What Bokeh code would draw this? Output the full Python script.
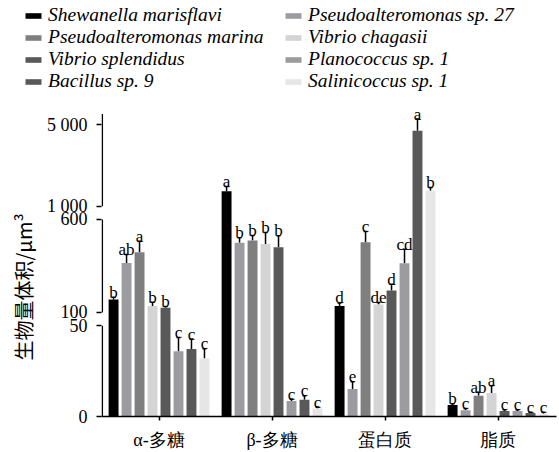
import numpy as np
from bokeh.plotting import figure
from bokeh.layouts import column, row
from bokeh.models import (ColumnDataSource, Range1d, FixedTicker, Legend, LegendItem,
                          Whisker, TeeHead, Arrow, Title)
from bokeh.core.properties import value
from bokeh.embed import file_html
from bokeh.resources import INLINE

# ---------------- data ----------------
groups = ["α-多糖", "β-多糖", "蛋白质", "脂质"]

species = ["Shewanella marisflavi", "Pseudoalteromonas sp. 27", "Pseudoalteromonas marina",
           "Vibrio chagasii", "Vibrio splendidus", "Planococcus sp. 1",
           "Bacillus sp. 9", "Salinicoccus sp. 1"]

shewanella_marisflavi = [170, 1730, 135, 6.3]
pseudoalteromonas_sp27 = [366, 475, 15.2, 3.5]
pseudoalteromonas_marina = [423, 487, 477, 11.5]
vibrio_chagasii = [135, 468, 143, 12.9]
vibrio_splendidus = [125, 450, 218, 3.0]
planococcus_sp1 = [35.9, 8.6, 364, 3.0]
bacillus_sp9 = [37.2, 9.2, 4706, 1.9]
salinicoccus_sp1 = [31.9, 4.4, 1754, 1.5]

shewanella_marisflavi_err = [12, 232, 16, 0.7]
pseudoalteromonas_sp27_err = [46, 27, 4, 0.9]
pseudoalteromonas_marina_err = [59, 27, 58, 1.9]
vibrio_chagasii_err = [20, 62, 11, 4.1]
vibrio_splendidus_err = [7, 62, 34, 0.7]
planococcus_sp1_err = [7.7, 1.0, 75, 0.7]
bacillus_sp9_err = [5.5, 2.3, 573, 0.5]
salinicoccus_sp1_err = [5.5, 0.8, 161, 0.9]

shewanella_marisflavi_sig = ["b", "a", "d", "b"]
pseudoalteromonas_sp27_sig = ["ab", "b", "e", "c"]
pseudoalteromonas_marina_sig = ["a", "b", "c", "ab"]
vibrio_chagasii_sig = ["b", "b", "de", "a"]
vibrio_splendidus_sig = ["b", "b", "d", "c"]
planococcus_sp1_sig = ["c", "c", "cd", "c"]
bacillus_sp9_sig = ["c", "c", "a", "c"]
salinicoccus_sp1_sig = ["c", "c", "b", "c"]

y_tick_values = [0, 50, 100, 600, 1000, 5000]
y_tick_labels = ["0", "50", "100", "600", "1 000", "5 000"]

means = [shewanella_marisflavi, pseudoalteromonas_sp27, pseudoalteromonas_marina,
         vibrio_chagasii, vibrio_splendidus, planococcus_sp1, bacillus_sp9, salinicoccus_sp1]
errs = [shewanella_marisflavi_err, pseudoalteromonas_sp27_err, pseudoalteromonas_marina_err,
        vibrio_chagasii_err, vibrio_splendidus_err, planococcus_sp1_err, bacillus_sp9_err,
        salinicoccus_sp1_err]
sigs = [shewanella_marisflavi_sig, pseudoalteromonas_sp27_sig, pseudoalteromonas_marina_sig,
        vibrio_chagasii_sig, vibrio_splendidus_sig, planococcus_sp1_sig, bacillus_sp9_sig,
        salinicoccus_sp1_sig]

colors = ["#000000", "#9c9ca0", "#7f7f7f", "#d4d4d4", "#595959", "#9c9ca0", "#595959", "#e6e6e6"]

# ------------- broken (segmented) y scale -------------
# value breakpoints -> drawing coordinate (pixels above baseline)
SEG_V = [0, 50, 100, 600, 1000, 5600]
SEG_D = [0, 91, 104.4, 197.7, 211, 304.95]
AXIS_TOP = 303.4


def disp(v):
    return np.interp(np.asarray(v, dtype=float), SEG_V, SEG_D)


SERIF = "Liberation Serif"

W = 559
LEG_H = 95                 # legend strip on top
H = 452 - LEG_H            # main chart
FL, FR, FT, FB = 97, 556, 0, 417 - LEG_H
PXU = 114.0  # pixels per group

# ---------------- legend strip ----------------
lf = figure(width=W, height=LEG_H, output_backend="svg", toolbar_location=None,
            min_border=0, x_axis_location=None, y_axis_location=None,
            x_range=Range1d(0, 1), y_range=Range1d(0, 1))
lf.outline_line_color = None
lf.grid.visible = False
leg_renderers = [lf.vbar(x=[-10], top=[0], width=0.1, fill_color=c, line_color=None)
                 for c in colors]
order = [0, 2, 4, 6, 1, 3, 5, 7]   # column-major: left column, then right column
leg = Legend(items=[LegendItem(label=species[i], renderers=[leg_renderers[i]]) for i in order],
             orientation="vertical", ncols=2, location=(23, 3),
             glyph_width=20, glyph_height=7, label_standoff=5, label_width=235,
             label_height=21, spacing=0, padding=0, margin=0, border_line_color=None,
             background_fill_alpha=0, label_text_font=SERIF, label_text_font_style="italic",
             label_text_font_size="19.5px", label_text_color="black")
lf.add_layout(leg)

# ---------------- main chart ----------------
p = figure(width=W, height=H, output_backend="svg", toolbar_location=None,
           min_border_left=FL, min_border_right=W - FR, min_border_top=FT,
           min_border_bottom=H - FB,
           x_range=Range1d(-0.509, -0.509 + (FR - FL) / PXU), y_range=Range1d(0, FB - FT))
p.outline_line_color = None
p.grid.visible = False
p.background_fill_color = "white"

step = 13.1 / PXU
bw = 10 / PXU
for k, name in enumerate(species):
    xs = [g + (k - 3.5) * step for g in range(len(groups))]
    m = np.array(means[k], dtype=float)
    e = np.array(errs[k], dtype=float)
    src = ColumnDataSource(dict(x=xs, top=disp(m), etop=disp(m + e), sig=sigs[k]))
    p.vbar(x="x", top="top", width=bw, bottom=0, source=src,
           fill_color=colors[k], line_color=None)
    p.add_layout(Whisker(base="x", lower="top", upper="etop", source=src, dimension="height",
                         line_color="black", line_width=1.5,
                         upper_head=TeeHead(size=4, line_width=1.5, line_color="black"),
                         lower_head=None))
    p.text(x="x", y="etop", text="sig", source=src, text_align="center",
           text_baseline="alphabetic", y_offset=-5, text_font=value(SERIF),
           text_font_size="17px", text_color="black")

# axes
p.xaxis.ticker = FixedTicker(ticks=list(range(len(groups))))
p.xaxis.major_label_overrides = {i: g for i, g in enumerate(groups)}
p.xaxis.minor_tick_line_color = None
p.xaxis.major_tick_in = 0
p.xaxis.major_tick_out = 4
p.xaxis.axis_line_width = 1.5
p.xaxis.major_tick_line_width = 1.5
p.xaxis.major_label_text_font = SERIF
p.xaxis.major_label_text_font_size = "18px"
p.xaxis.major_label_text_color = "black"
p.xaxis.major_label_standoff = 9

ytick_pos = [float(v) for v in disp(y_tick_values)]
p.yaxis.ticker = FixedTicker(ticks=ytick_pos)
p.yaxis.major_label_overrides = {t: l for t, l in zip(ytick_pos, y_tick_labels)}
p.yaxis.minor_tick_line_color = None
p.yaxis.major_tick_in = 0
p.yaxis.major_tick_out = 5
p.yaxis.major_tick_line_width = 1.5
p.yaxis.axis_line_color = None
p.yaxis.major_label_text_font = SERIF
p.yaxis.major_label_text_font_size = "18px"
p.yaxis.major_label_text_color = "black"
p.yaxis.major_label_standoff = 9

# broken y-axis line segments (just inside the frame edge)
x0 = p.x_range.start + 0.8 / PXU
for lo, hi in [(0, 50), (100, 600), (1000, None)]:
    y_lo = float(disp(lo))
    y_hi = float(disp(hi)) if hi is not None else AXIS_TOP
    p.add_layout(Arrow(x_start=x0, y_start=y_lo, x_end=x0, y_end=y_hi, end=None,
                       line_color="black", line_width=1.5))

ylab = Title(text="生物量体积/μm³", align="left", offset=56, text_font="Noto Sans CJK SC",
             text_font_size="20px", text_font_style="normal", text_color="black", standoff=12)
p.add_layout(ylab, "left")

layout = column(row(lf), p, spacing=0)
open("out.html", "w").write(file_html(layout, INLINE))
